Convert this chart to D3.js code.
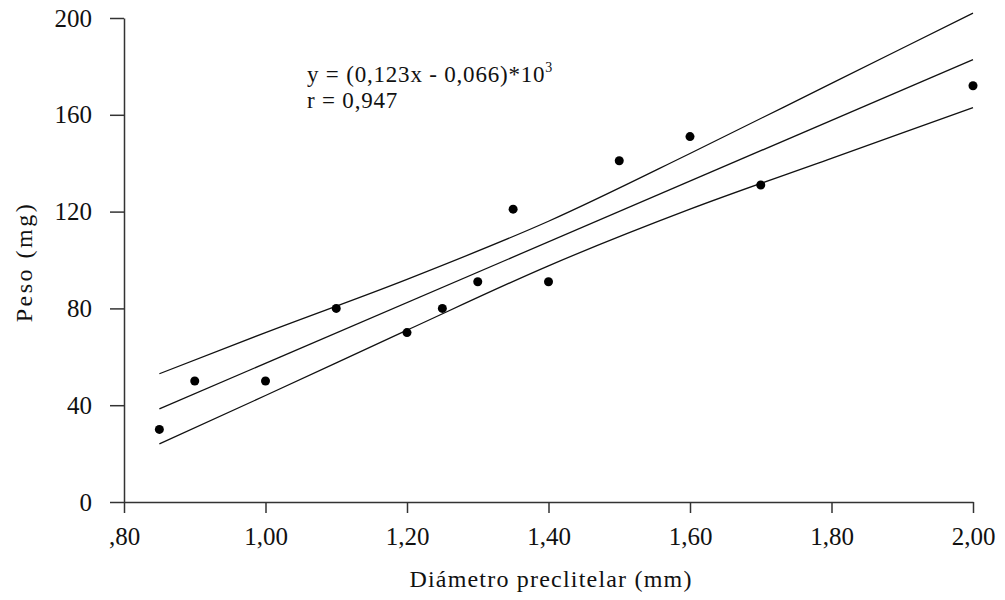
<!DOCTYPE html>
<html><head><meta charset="utf-8">
<script src="https://cdn.jsdelivr.net/npm/d3@7"></script>
<style>body{margin:0;background:#fff}</style>
</head><body>
<svg id="chart" width="1005" height="600"></svg>
<script>
// Data
const diametro = [0.85, 0.90, 1.00, 1.10, 1.20, 1.25, 1.30, 1.35, 1.40, 1.50, 1.60, 1.70, 2.00];
const peso     = [30, 50, 50, 80, 70, 80, 91, 121, 91, 141, 151, 131, 172];
const fitX     = [0.85, 2.00];
const fitY     = [38.5, 182.8];
const bandX    = [0.85, 1.00, 1.20, 1.40, 1.60, 1.80, 2.00];
const upperY   = [53, 70, 92, 116, 144, 173, 202];
const lowerY   = [24, 44, 71, 97.6, 121, 142, 163];
const xTicks   = [0.8, 1.0, 1.2, 1.4, 1.6, 1.8, 2.0];
const xTickLabels = [",80", "1,00", "1,20", "1,40", "1,60", "1,80", "2,00"];
const yTicks   = [0, 40, 80, 120, 160, 200];

const svg = d3.select("#chart");
const font = "'Liberation Serif', 'Times New Roman', serif";
const x = d3.scaleLinear().domain([0.8, 2.0]).range([124, 973]);
const y = d3.scaleLinear().domain([0, 200]).range([502, 18]);

// axes
const yAxis = svg.append("g").attr("transform", "translate(124,0)")
  .call(d3.axisLeft(y).tickValues(yTicks).tickSize(14).tickPadding(18).tickSizeOuter(0));
const xAxis = svg.append("g").attr("transform", "translate(0,502)")
  .call(d3.axisBottom(x).tickValues(xTicks).tickFormat((d,i)=>xTickLabels[i]).tickSize(11).tickPadding(14).tickSizeOuter(0));
[yAxis, xAxis].forEach(g => {
  g.selectAll("path.domain").attr("stroke", "#333").attr("stroke-width", 1.5);
  g.selectAll(".tick line").attr("stroke", "#333").attr("stroke-width", 1.5);
  g.selectAll("text").attr("font-family", font).attr("font-size", 25).attr("fill", "#111");
});

// lines
const line = d3.line().x(d => x(d[0])).y(d => y(d[1])).curve(d3.curveMonotoneX);
const lineStyle = sel => sel.attr("fill", "none").attr("stroke", "#111").attr("stroke-width", 1.3);
svg.append("path").datum(bandX.map((v,i)=>[v, upperY[i]])).attr("d", line).call(lineStyle);
svg.append("path").datum(fitX.map((v,i)=>[v, fitY[i]])).attr("d", line).call(lineStyle);
svg.append("path").datum(bandX.map((v,i)=>[v, lowerY[i]])).attr("d", line).call(lineStyle);

// points
svg.append("g").selectAll("circle").data(diametro).join("circle")
  .attr("cx", d => x(d)).attr("cy", (d,i) => y(peso[i])).attr("r", 4.5).attr("fill", "#000");

// annotation
const eq = svg.append("text").attr("x", 307).attr("y", 82).attr("font-family", font).attr("font-size", 23)
  .attr("letter-spacing", 0.8).attr("fill", "#111");
eq.append("tspan").text("y = (0,123x - 0,066)*10");
eq.append("tspan").attr("dy", -10).attr("font-size", 14).text("3");
svg.append("text").attr("x", 307).attr("y", 108).attr("font-family", font).attr("font-size", 23)
  .attr("letter-spacing", 0.8).attr("fill", "#111").text("r = 0,947");

// axis titles
svg.append("text").attr("x", 551).attr("y", 587).attr("text-anchor", "middle")
  .attr("font-family", font).attr("font-size", 24).attr("letter-spacing", 1.2).attr("fill", "#111").text("Diámetro preclitelar (mm)");
svg.append("text").attr("transform", "translate(32,262) rotate(-90)").attr("text-anchor", "middle")
  .attr("font-family", font).attr("font-size", 24).attr("letter-spacing", 2.5).attr("fill", "#111").text("Peso (mg)");
</script>
</body></html>
